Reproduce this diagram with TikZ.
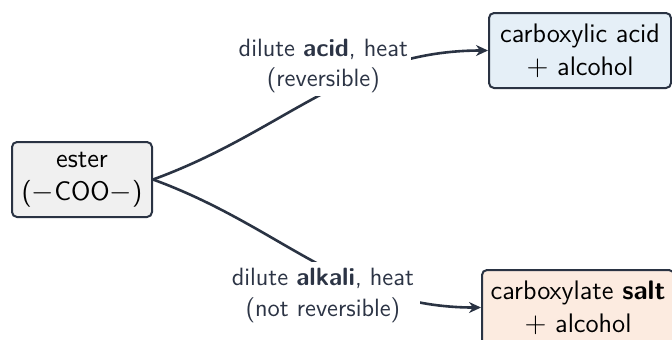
\documentclass[tikz,border=0pt]{standalone}
\usepackage{fontspec}
\usetikzlibrary{arrows.meta}
\definecolor{edgec}{HTML}{2A3343}
\definecolor{labc}{HTML}{2C3445}
\definecolor{esterfill}{HTML}{F0F0F0}
\definecolor{acidfill}{HTML}{E5EFF7}
\definecolor{saltfill}{HTML}{FCEBE0}
\tikzset{
  box/.style={draw=edgec, line width=1pt, rounded corners=2.5pt, align=center,
    font=\sffamily\fontsize{13.4}{16.5}\selectfont, text=black, inner sep=2pt},
  conn/.style={draw=edgec, line width=1.3pt, -{Stealth[length=6pt,width=5.5pt]}},
  lab/.style={fill=white, align=center, text=labc,
    font=\sffamily\fontsize{12.5}{15.2}\selectfont, inner sep=3pt}
}
\begin{document}
\begin{tikzpicture}[x=0.5pt,y=-0.5pt]
\useasboundingbox (0,0) rectangle (672,339);
\begin{scope}
\clip (0,0) rectangle (672,339);
\node[box, fill=esterfill, minimum width=70pt, minimum height=37.5pt] (ester) at (82,179.5) {ester\\($-$COO$-$)};
\node[box, fill=acidfill, minimum width=91pt, minimum height=37.5pt] (acid) at (580,50.5) {carboxylic acid\\$+$ alcohol};
\node[box, fill=saltfill, minimum width=96pt, minimum height=37.5pt] (salt) at (578,307.5) {carboxylate \textbf{salt}\\$+$ alcohol};
\draw[conn] (ester.east) to[out=20,in=180] node[lab, above, inner sep=1.5pt, xshift=3pt] (l1) {dilute \textbf{acid}, heat\\(reversible)} (acid.west);
\draw[conn] (ester.east) to[out=-20,in=180] node[lab, below, xshift=4.5pt] (l2) {dilute \textbf{alkali}, heat\\(not reversible)} (salt.west);
\end{scope}
\end{tikzpicture}
\end{document}
